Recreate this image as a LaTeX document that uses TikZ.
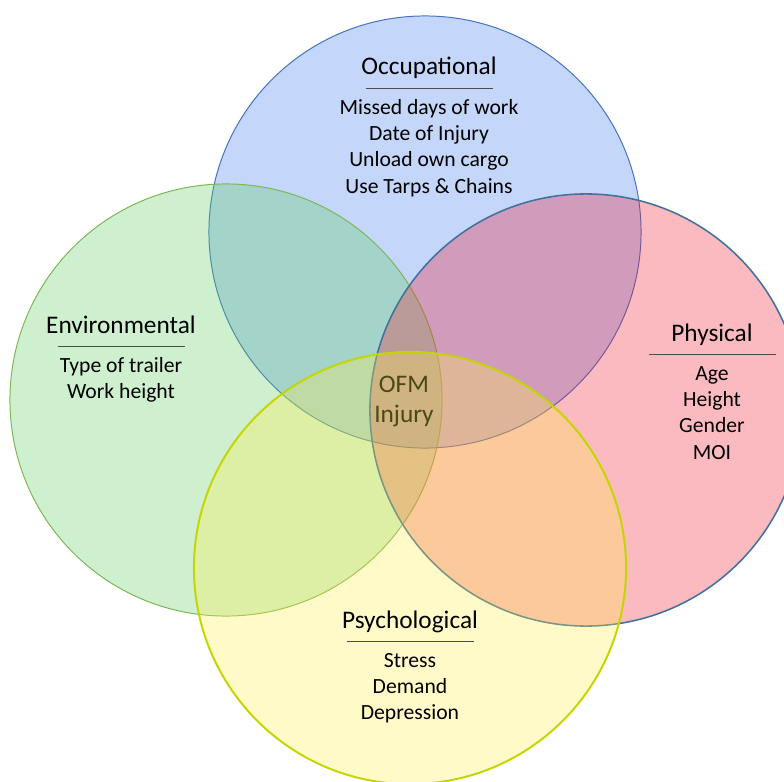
\documentclass[tikz,border=0pt]{standalone}
\usepackage{fontspec}
\setmainfont{Carlito}
\usepackage{xcolor}
\usetikzlibrary{positioning,calc}

\definecolor{occfill}{RGB}{58,118,238}
\definecolor{occline}{RGB}{68,114,196}
\definecolor{envfill}{RGB}{92,205,92}
\definecolor{envline}{RGB}{125,182,85}
\definecolor{physfill}{RGB}{242,25,45}
\definecolor{physline}{RGB}{65,113,156}
\definecolor{psyfill}{RGB}{255,238,72}
\definecolor{psyline}{RGB}{196,214,0}
\definecolor{coretext}{RGB}{77,71,22}

\begin{document}
\begin{tikzpicture}[
    x=0.025cm, y=-0.025cm,
    factor/.style={circle, minimum size=10.8cm, inner sep=0pt, fill opacity=0.3},
    heading/.style={anchor=base, inner sep=0pt, font=\fontsize{18}{21.5}\selectfont},
    item/.style={anchor=base, inner sep=0pt, font=\fontsize{15.4}{18.7}\selectfont},
    rule/.style={draw=black!70, line width=0.7pt},
  ]
  \useasboundingbox (0,0) rectangle (784,782);

  % Circles
  \node[factor, fill=occfill, draw=occline, line width=0.7pt] (occ) at (425,232) {};
  \node[factor, fill=envfill, draw=envline, line width=0.7pt] (env) at (226,400) {};
  \node[factor, fill=physfill, draw=physline, line width=1.1pt] (phys) at (586,410) {};
  \node[factor, fill=psyfill, draw=psyline, line width=1.4pt] (psy) at (410,568) {};

  % Occupational
  \node[heading] (occ-head) at (429,75) {Occupational};
  \draw[rule] ($(occ-head.base)+(-63.5,13)$) -- ++(127,0);
  \foreach \t [count=\i] in {Missed days of work, Date of Injury, Unload own cargo, Use Tarps \& Chains}
    \node[item] (occ-\i) at ($(occ-head.base)+(0,13+26.3*\i)$) {\t};

  % Environmental
  \node[heading] (env-head) at (121,333) {Environmental};
  \draw[rule] ($(env-head.base)+(-63.5,13)$) -- ++(127,0);
  \foreach \t [count=\i] in {Type of trailer, Work height}
    \node[item] (env-\i) at ($(env-head.base)+(0,13+26.3*\i)$) {\t};

  % Physical
  \node[heading] (phys-head) at (712,341) {Physical};
  \draw[rule] ($(phys-head.base)+(-63.5,13)$) -- ++(127,0);
  \foreach \t [count=\i] in {Age, Height, Gender, MOI}
    \node[item] (phys-\i) at ($(phys-head.base)+(0,13+26.3*\i)$) {\t};

  % Psychological
  \node[heading] (psy-head) at (410,628) {Psychological};
  \draw[rule] ($(psy-head.base)+(-63.5,13)$) -- ++(127,0);
  \foreach \t [count=\i] in {Stress, Demand, Depression}
    \node[item] (psy-\i) at ($(psy-head.base)+(0,13+26.3*\i)$) {\t};

  % Centre
  \node[align=center, inner sep=0pt, text=coretext, font=\fontsize{18}{21.3}\selectfont] (core) at (404,401) {OFM\\Injury};
\end{tikzpicture}
\end{document}
